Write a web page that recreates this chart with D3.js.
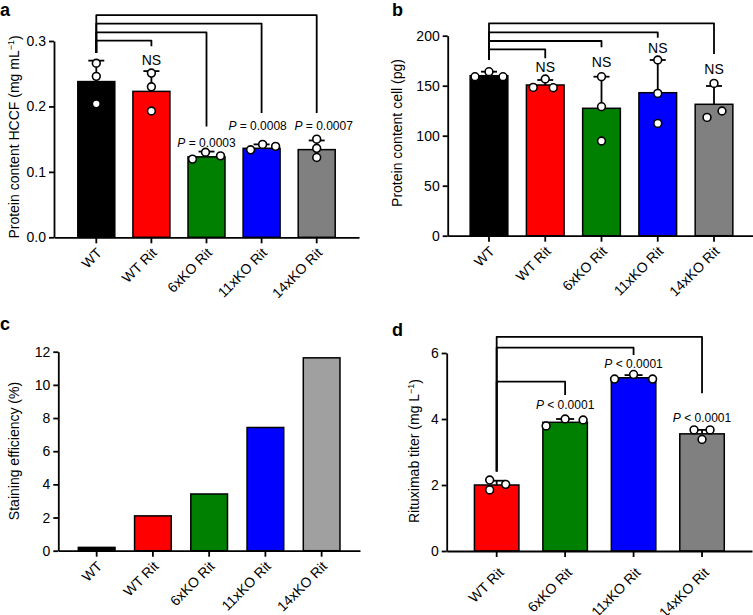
<!DOCTYPE html>
<html>
<head>
<meta charset="utf-8">
<script src="https://cdn.jsdelivr.net/npm/d3@7"></script>
<style>
  html, body { margin: 0; padding: 0; background: #fff; }
  svg { display: block; font-family: "Liberation Sans", Arial, Helvetica, sans-serif; }
</style>
</head>
<body>
<svg id="chart" width="753" height="615"></svg>
<script>
// ---------------- DATA ----------------
const categories5 = ["WT", "WT Rit", "6xKO Rit", "11xKO Rit", "14xKO Rit"];
const categoriesD = ["WT Rit", "6xKO Rit", "11xKO Rit", "14xKO Rit"];

const colors5 = ["#000000", "#ff0000", "#008000", "#0000ff", "#808080"];
const colorsC = ["#000000", "#ff0000", "#008000", "#0000ff", "#a0a0a0"];
const colorsD = ["#ff0000", "#008000", "#0000ff", "#808080"];

// Panel a: protein content HCCF (mg/mL)
const hccfMean = [0.238, 0.223, 0.123, 0.136, 0.134];
const hccfSD = [0.032, 0.031, 0.008, 0.006, 0.014];
const hccfPoints = [
  [0.266, 0.246, 0.204],
  [0.251, 0.230, 0.193],
  [0.1195, 0.130, 0.1245],
  [0.1337, 0.142, 0.139],
  [0.150, 0.136, 0.122]
];
const hccfTicks = [0.0, 0.1, 0.2, 0.3];
const hccfBrackets = [
  { to: "WT Rit", top: 0.3006, leftEnd: 0.2818, rightEnd: 0.2919 },
  { to: "6xKO Rit", top: 0.3133, leftEnd: 0.2818, rightEnd: 0.1694 },
  { to: "11xKO Rit", top: 0.3266, leftEnd: 0.2818, rightEnd: 0.190 },
  { to: "14xKO Rit", top: 0.3394, leftEnd: 0.2818, rightEnd: 0.190 }
];
const hccfLabels = [
  { cat: "WT Rit", text: "NS", at: 0.2637 },
  { cat: "6xKO Rit", text: "P = 0.0003", at: 0.1387 },
  { cat: "11xKO Rit", text: "P = 0.0008", at: 0.1643 },
  { cat: "14xKO Rit", text: "P = 0.0007", at: 0.1643 }
];

// Panel b: protein content cell (pg)
const cellMean = [160, 150.7, 127.4, 143, 131.4];
const cellSD = [4, 5, 31.6, 32.7, 18.3];
const cellPoints = [
  [159, 164, 159],
  [148.3, 156.7, 148],
  [159, 129, 94.7],
  [175.7, 142.3, 112.3],
  [118.3, 124.7, 152.3]
];
const cellTicks = [0, 50, 100, 150, 200];
const cellBrackets = [
  { to: "WT Rit", top: 186.4, leftEnd: 175.7, rightEnd: 177.4 },
  { to: "6xKO Rit", top: 194.7, leftEnd: 175.7, rightEnd: 188.4 },
  { to: "11xKO Rit", top: 203.4, leftEnd: 175.7, rightEnd: 198 },
  { to: "14xKO Rit", top: 212.4, leftEnd: 175.7, rightEnd: 181.7 }
];
const cellLabels = [
  { cat: "WT Rit", text: "NS", at: 164 },
  { cat: "6xKO Rit", text: "NS", at: 169 },
  { cat: "11xKO Rit", text: "NS", at: 182.4 },
  { cat: "14xKO Rit", text: "NS", at: 161.4 }
];

// Panel c: staining efficiency (%)
const stainValues = [0.2, 2.1, 3.42, 7.43, 11.63];
const stainTicks = [0, 2, 4, 6, 8, 10, 12];

// Panel d: rituximab titer (mg/L)
const titerMean = [2.0, 3.9, 5.25, 3.55];
const titerSD = [0.13, 0.1, 0.08, 0.12];
const titerPoints = [
  [2.15, 1.85, 2.02],
  [3.79, 4.0, 3.97],
  [5.21, 5.35, 5.21],
  [3.67, 3.67, 3.38]
];
const titerTicks = [0, 2, 4, 6];
const titerBrackets = [
  { to: "6xKO Rit", top: 5.13, leftEnd: 2.41, rightEnd: 4.73 },
  { to: "11xKO Rit", top: 6.16, leftEnd: 2.41, rightEnd: 5.94 },
  { to: "14xKO Rit", top: 6.49, leftEnd: 2.41, rightEnd: 4.78 }
];
const titerLabels = [
  { cat: "6xKO Rit", text: "P < 0.0001", at: 4.29 },
  { cat: "11xKO Rit", text: "P < 0.0001", at: 5.54 },
  { cat: "14xKO Rit", text: "P < 0.0001", at: 3.92 }
];

// ---------------- LAYOUT (positions / styles) ----------------
const jitterA = [[0, 0, 0], [0, 0, 0], [-14, -1, 14], [-11, 1, 14], [0, 0, 0]];
const jitterB = [[-14, 0, 14], [-12, 0, 8], [0, 0, 0], [0, 0, 0], [-7, 8, 0]];
const jitterD = [[-7, -7, 9], [-19, 0, 18], [-19, 0, 19], [-8, 8, 0]];
const labelDxA = [0, 0, -4, 7];

const svg = d3.select("#chart");
const FONT_TICK = 14, FONT_TITLE = 14;

svg.append("defs").append("clipPath").attr("id", "topclip")
  .append("rect").attr("x", 0).attr("y", 0).attr("width", 753).attr("height", 300);

const topLayer = svg.append("g").attr("clip-path", "url(#topclip)");
const botLayer = svg.append("g");

function drawPanel(root, o) {
  const g = root.append("g");
  const x = d3.scaleBand().domain(o.cats).range(o.xRange)
    .paddingInner(o.pi).paddingOuter(o.po);
  const y = d3.scaleLinear().domain(o.yDomain).range(o.yRange);
  const bw = x.bandwidth();
  const cx = c => x(c) + bw / 2;

  // bars
  g.selectAll("rect.bar").data(o.cats).join("rect")
    .attr("class", "bar")
    .attr("x", c => x(c)).attr("width", bw)
    .attr("y", (c, i) => y(o.means[i]))
    .attr("height", (c, i) => y(0) - y(o.means[i]))
    .attr("fill", (c, i) => o.colors[i])
    .attr("stroke", "#000").attr("stroke-width", 1.5);

  // error bars (upper)
  if (o.sds) {
    o.cats.forEach((c, i) => {
      const top = y(o.means[i] + o.sds[i]);
      g.append("line").attr("x1", cx(c)).attr("x2", cx(c))
        .attr("y1", y(o.means[i])).attr("y2", top)
        .attr("stroke", "#000").attr("stroke-width", 1.8);
      g.append("line").attr("x1", cx(c) - o.capW / 2).attr("x2", cx(c) + o.capW / 2)
        .attr("y1", top).attr("y2", top)
        .attr("stroke", "#000").attr("stroke-width", 1.8);
    });
  }

  // points
  if (o.points) {
    o.cats.forEach((c, i) => {
      o.points[i].forEach((v, k) => {
        g.append("circle")
          .attr("cx", cx(c) + o.jitter[i][k]).attr("cy", y(v))
          .attr("r", 3.9).attr("fill", "#fff")
          .attr("stroke", "#000").attr("stroke-width", 1.6);
      });
    });
  }

  // y axis
  const yAxis = g.append("g").attr("transform", `translate(${o.xRange[0]},0)`)
    .call(d3.axisLeft(y).tickValues(o.yTicks).tickFormat(o.fmt).tickSize(5).tickSizeOuter(0).tickPadding(3));
  yAxis.select(".domain").attr("stroke-width", 1.8);
  yAxis.selectAll(".tick line").attr("stroke-width", 1.8);
  yAxis.selectAll(".tick text").attr("font-size", FONT_TICK).attr("fill", "#000")
    .attr("font-family", "Liberation Sans, Arial, sans-serif");

  // x axis
  const xAxis = g.append("g").attr("transform", `translate(0,${y(0)})`)
    .call(d3.axisBottom(x).tickSize(6).tickSizeOuter(0));
  xAxis.select(".domain").attr("stroke-width", 1.8);
  xAxis.selectAll(".tick line").attr("stroke-width", 1.8);
  xAxis.selectAll(".tick text")
    .attr("font-size", FONT_TICK).attr("fill", "#000")
    .attr("font-family", "Liberation Sans, Arial, sans-serif")
    .attr("x", null).attr("y", null).attr("dy", "0.35em")
    .attr("text-anchor", "end")
    .attr("transform", `translate(${o.lblOff[0]},${o.lblOff[1]}) rotate(-45)`);

  // y title
  const t = g.append("text")
    .attr("transform", `translate(${o.titlePos[0]},${o.titlePos[1]}) rotate(-90)`)
    .attr("text-anchor", "middle").attr("font-size", FONT_TITLE).attr("fill", "#000");
  t.append("tspan").text(o.title[0]);
  if (o.title.length > 1) {
    t.append("tspan").attr("font-size", 9).attr("dy", "-0.55em").text(o.title[1]);
    t.append("tspan").attr("dy", "0.4em").text(o.title[2]);
  }

  // brackets
  if (o.brackets) {
    const lx = cx(o.cats[0]);
    o.brackets.forEach(b => {
      const rx = cx(b.to);
      g.append("path")
        .attr("d", `M${lx},${y(b.leftEnd)}V${y(b.top)}H${rx}V${y(b.rightEnd)}`)
        .attr("fill", "none").attr("stroke", "#000").attr("stroke-width", 1.8)
        .attr("stroke-linejoin", "round");
    });
  }

  // significance labels
  if (o.labels) {
    o.labels.forEach((l, i) => {
      const dx = o.labelDx ? o.labelDx[i] : 0;
      const txt = g.append("text")
        .attr("x", cx(l.cat) + dx).attr("y", y(l.at))
        .attr("text-anchor", "middle").attr("fill", "#000");
      if (l.text.startsWith("P")) {
        txt.attr("font-size", 12);
        txt.append("tspan").attr("font-style", "italic").text("P");
        txt.append("tspan").text(l.text.slice(1));
      } else {
        txt.attr("font-size", 14).text(l.text);
      }
    });
  }

  // panel letter
  g.append("text").attr("x", o.letterPos[0]).attr("y", o.letterPos[1])
    .attr("font-size", 18).attr("font-weight", "bold").attr("fill", "#000").text(o.letter);
}

drawPanel(topLayer, {
  cats: categories5, means: hccfMean, sds: hccfSD, points: hccfPoints, jitter: jitterA,
  colors: colors5, yDomain: [0, 0.3], yRange: [237.3, 41], xRange: [54, 359],
  pi: 0.3285, po: 0.432, yTicks: hccfTicks, fmt: d3.format(".1f"), capW: 16,
  lblOff: [3, 13], titlePos: [19, 137],
  title: ["Protein content HCCF (mg mL", "\u22121", ")"],
  brackets: hccfBrackets, labels: hccfLabels, labelDx: labelDxA,
  letter: "a", letterPos: [0, 16]
});

drawPanel(topLayer, {
  cats: categories5, means: cellMean, sds: cellSD, points: cellPoints, jitter: jitterB,
  colors: colors5, yDomain: [0, 200], yRange: [235.7, 35.7], xRange: [447.7, 755.3],
  pi: 0.33, po: 0.399, yTicks: cellTicks, fmt: d3.format("d"), capW: 16,
  lblOff: [3, 13], titlePos: [402, 133],
  title: ["Protein content cell (pg)"],
  brackets: cellBrackets, labels: cellLabels,
  letter: "b", letterPos: [392, 16]
});

drawPanel(botLayer, {
  cats: categories5, means: stainValues, sds: null, points: null, jitter: null,
  colors: colorsC, yDomain: [0, 12], yRange: [550.7, 351.7], xRange: [58.3, 360],
  pi: 0.3476, po: 0.356, yTicks: stainTicks, fmt: d3.format("d"), capW: 16,
  lblOff: [3, 13], titlePos: [19, 451],
  title: ["Staining efficiency (%)"],
  brackets: null, labels: null,
  letter: "c", letterPos: [0, 330]
});

drawPanel(botLayer, {
  cats: categoriesD, means: titerMean, sds: titerSD, points: titerPoints, jitter: jitterD,
  colors: colorsD, yDomain: [0, 6], yRange: [551, 353], xRange: [446.7, 752],
  pi: 0.35, po: 0.405, yTicks: titerTicks, fmt: d3.format("d"), capW: 18,
  lblOff: [4.5, 19], titlePos: [419, 451],
  title: ["Rituximab titer (mg L", "\u22121", ")"],
  brackets: titerBrackets, labels: titerLabels,
  letter: "d", letterPos: [392, 336]
});
</script>
</body>
</html>
